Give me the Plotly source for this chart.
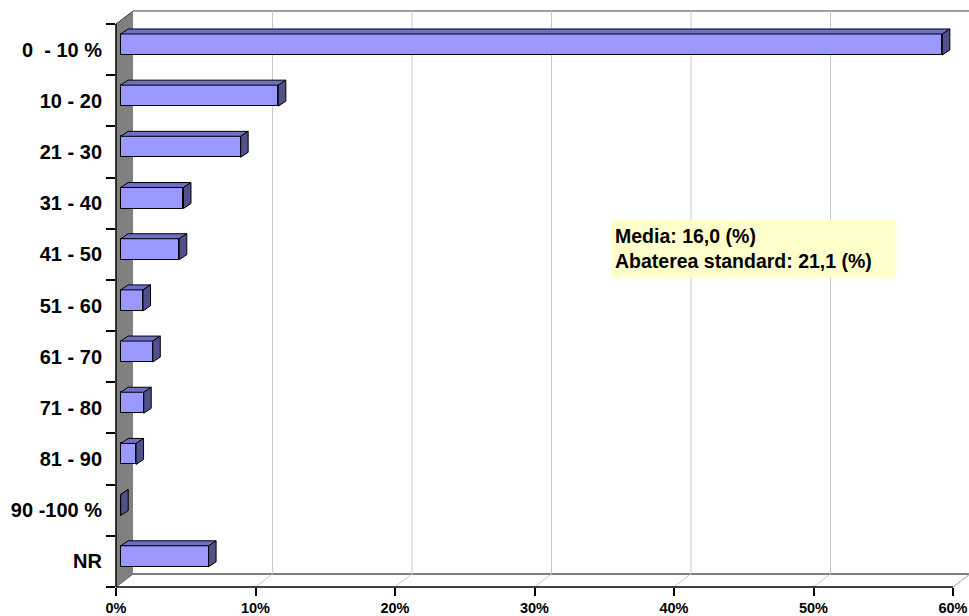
import plotly.graph_objects as go

# ---------------- data ----------------
categories = ["0\u00a0\u00a0- 10 %", "10 - 20", "21 - 30", "31 - 40", "41 - 50", "51 - 60",
              "61 - 70", "71 - 80", "81 - 90", "90 -100 %", "NR"]
values = [58.9, 11.3, 8.6, 4.5, 4.2, 1.6, 2.3, 1.65, 1.1, 0.0, 6.3]
x_ticks = [0, 10, 20, 30, 40, 50, 60]
x_ticktext = ["0%", "10%", "20%", "30%", "40%", "50%", "60%"]
stats_text = "Media: 16,0 (%)<br>Abaterea standard: 21,1 (%)"

# ---------------- geometry / style ----------------
W, H = 969, 616
L_PX, R_PX = 116, 969          # plot area x pixels
T_PX, B_PX = 11, 587           # plot area y pixels
PXU = 13.95                    # pixels per 1 %
N = len(categories)
CAT_PX = (B_PX - 24) / N       # pixels per category (front plane)
DX = 17 / PXU                  # wall depth in x units
DY = 13 / CAT_PX               # wall depth in category units
XMAX = (R_PX - L_PX) / PXU
YRANGE = [N - 0.5, -0.5 - DY]

BAR_BASE = 4.7 / PXU           # bar front plane shift
BAR_OFF = -0.305
BAR_W = 0.41
BDX = 7.5 / PXU                # bar depth
BDY = -5 / CAT_PX

FRONT = "#9999FF"
TOP = "#6E6EC4"
SIDE = "#50508A"
FONT = "Arial, 'Liberation Sans', sans-serif"

pos = list(range(N))

fig = go.Figure()

# front faces
fig.add_trace(go.Bar(
    x=values, y=pos, base=BAR_BASE, orientation="h",
    offset=BAR_OFF, width=BAR_W,
    marker=dict(color=FRONT, line=dict(color="black", width=1)),
    hoverinfo="skip", showlegend=False))

# top and side faces of the 3D bars (derived from values)
top_x, top_y, side_x, side_y = [], [], [], []
for p, v in zip(pos, values):
    y0 = p + BAR_OFF
    y1 = y0 + BAR_W
    x0 = BAR_BASE
    x1 = BAR_BASE + v
    top_x += [x0, x1, x1 + BDX, x0 + BDX, x0, None]
    top_y += [y0, y0, y0 + BDY, y0 + BDY, y0, None]
    side_x += [x1, x1 + BDX, x1 + BDX, x1, x1, None]
    side_y += [y0, y0 + BDY, y1 + BDY, y1, y0, None]

fig.add_trace(go.Scatter(x=top_x, y=top_y, mode="lines", fill="toself",
                         fillcolor=TOP, line=dict(color="black", width=1),
                         hoverinfo="skip", showlegend=False))
fig.add_trace(go.Scatter(x=side_x, y=side_y, mode="lines", fill="toself",
                         fillcolor=SIDE, line=dict(color="black", width=1),
                         hoverinfo="skip", showlegend=False))

# dummy trace for the boundary-tick axis
fig.add_trace(go.Scatter(x=[0], y=[0], yaxis="y2", mode="markers",
                         marker=dict(opacity=0), hoverinfo="skip", showlegend=False))

shapes = []
back_bottom = N - 0.5 - DY
# left wall
shapes.append(dict(type="path", xref="x", yref="y", layer="below",
                   path=f"M 0 {-0.5} L {DX} {-0.5 - DY} L {DX} {back_bottom} L 0 {N - 0.5} Z",
                   fillcolor="#808080", line=dict(width=0)))
# floor back edge
shapes.append(dict(type="line", xref="x", yref="y", layer="below",
                   x0=DX, x1=XMAX, y0=back_bottom, y1=back_bottom,
                   line=dict(color="#808080", width=2)))
# right floor edge
shapes.append(dict(type="line", xref="x", yref="y", layer="below",
                   x0=x_ticks[-1], x1=x_ticks[-1] + DX, y0=N - 0.5, y1=back_bottom,
                   line=dict(color="#808080", width=1)))
# back wall top edge
shapes.append(dict(type="line", xref="x", yref="paper", layer="below",
                   x0=DX, x1=XMAX, y0=1, y1=1,
                   line=dict(color="#A0A0A0", width=2)))
# gridlines (back wall + floor diagonals)
for t in x_ticks[1:]:
    shapes.append(dict(type="line", xref="x", yref="y", layer="below",
                       x0=t + DX, x1=t + DX, y0=-0.5 - DY, y1=back_bottom,
                       line=dict(color="#C8C8C8", width=1)))
    shapes.append(dict(type="line", xref="x", yref="y", layer="below",
                       x0=t + DX, x1=t, y0=back_bottom, y1=N - 0.5,
                       line=dict(color="#C8C8C8", width=1)))
# wall top diagonal edge
shapes.append(dict(type="line", xref="x", yref="y", layer="below",
                   x0=0, x1=DX, y0=-0.5, y1=-0.5 - DY,
                   line=dict(color="#404040", width=1)))
# wall bottom diagonal edge
shapes.append(dict(type="line", xref="x", yref="y", layer="below",
                   x0=0, x1=DX, y0=N - 0.5, y1=back_bottom,
                   line=dict(color="#606060", width=1)))
# front axis lines
shapes.append(dict(type="line", xref="x", yref="paper", layer="above",
                   x0=0, x1=x_ticks[-1], y0=0, y1=0,
                   line=dict(color="black", width=1.5)))
shapes.append(dict(type="line", xref="paper", yref="y", layer="above",
                   x0=0, x1=0, y0=-0.5, y1=N - 0.5,
                   line=dict(color="black", width=1.5)))

fig.update_layout(
    width=W, height=H, autosize=False,
    margin=dict(l=L_PX, r=W - R_PX, t=T_PX, b=H - B_PX, pad=0),
    paper_bgcolor="white", plot_bgcolor="white",
    font=dict(family=FONT, color="black"),
    showlegend=False,
    shapes=shapes,
    xaxis=dict(range=[0, XMAX], tickvals=x_ticks, ticktext=x_ticktext,
               ticks="outside", ticklen=8, tickcolor="black", tickwidth=1.5,
               showgrid=False, zeroline=False, showline=False, automargin=False,
               tickfont=dict(size=14.5, family=FONT, weight="bold")),
    yaxis=dict(range=YRANGE, tickvals=pos, ticktext=categories,
               ticks="outside", ticklen=9, tickcolor="rgba(0,0,0,0)",
               showgrid=False, zeroline=False, showline=False, automargin=False,
               tickfont=dict(size=20, family=FONT, weight="bold")),
    yaxis2=dict(range=YRANGE, overlaying="y", anchor="x", side="left",
                tickvals=[i - 0.5 for i in range(N + 1)],
                ticks="outside", ticklen=9, tickcolor="black", tickwidth=1.5,
                showticklabels=False, showgrid=False, zeroline=False, showline=False,
                automargin=False),
    bargap=0,
)

fig.add_annotation(
    xref="paper", yref="paper",
    x=(611 - L_PX) / (R_PX - L_PX), y=(B_PX - 219) / (B_PX - T_PX),
    xanchor="left", yanchor="top",
    text=stats_text, showarrow=False, align="left",
    bgcolor="#FFFFCC", borderpad=3, width=278, height=51,
    font=dict(size=19.5, family=FONT, weight="bold", color="black"),
)

fig.write_html("out.html", config={"displayModeBar": False},
               post_script="document.body.style.margin='0';")
